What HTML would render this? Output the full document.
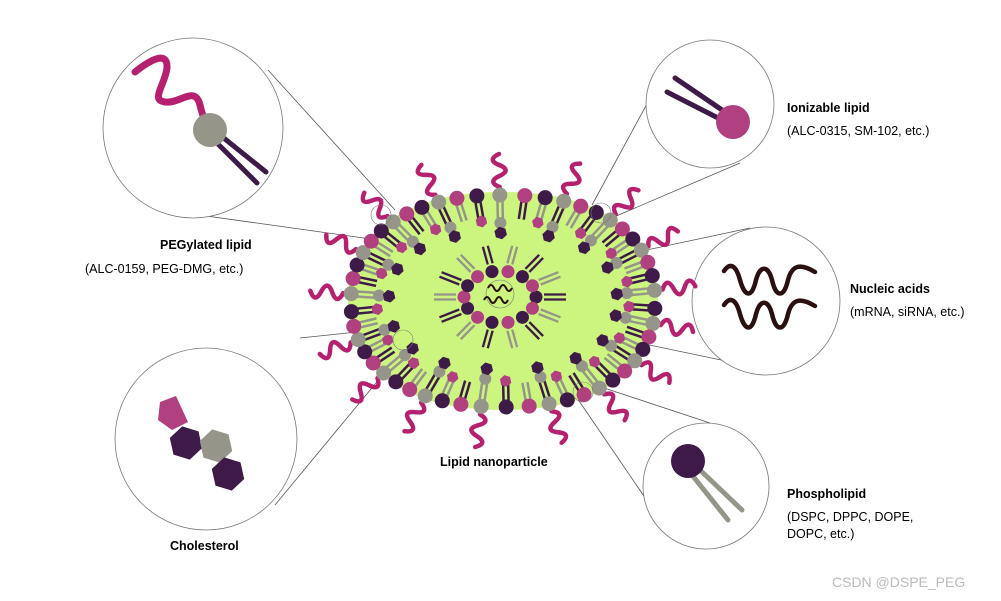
<!DOCTYPE html>
<html><head><meta charset="utf-8"><style>
html,body{margin:0;padding:0;background:#fff;width:1001px;height:601px;overflow:hidden}
svg{display:block}
text{font-family:"Liberation Sans",Arial,sans-serif;font-size:12.5px;fill:#000}
.b{font-weight:bold}
</style></head><body>
<svg id="s" width="1001" height="601" viewBox="0 0 1001 601" xmlns="http://www.w3.org/2000/svg">
<g id="lines" stroke="#555" stroke-width="0.8" fill="none">
<line x1="268" y1="70" x2="395" y2="210"/>
<line x1="185" y1="213" x2="378" y2="240"/>
<line x1="660" y1="80" x2="592" y2="205"/>
<line x1="740" y1="163" x2="607" y2="220"/>
<line x1="750" y1="228" x2="520" y2="277"/>
<line x1="745" y1="365" x2="520" y2="318"/>
<line x1="710" y1="423" x2="595" y2="385"/>
<line x1="650" y1="505" x2="575" y2="395"/>
<line x1="300" y1="338" x2="395" y2="328"/>
<line x1="275" y1="505" x2="395" y2="360"/>
</g>
<g stroke="#777" stroke-width="0.8" fill="#fff">
<circle cx="193" cy="128" r="90"/>
<circle cx="710" cy="104" r="64"/>
<circle cx="766" cy="301" r="74"/>
<circle cx="706" cy="486" r="63"/>
<circle cx="206" cy="439" r="91"/>
</g>
<path d="M135,72 C150,60 168,50 167,68 C165,85 150,100 165,102 C180,104 195,85 200,105 C203,118 205,122 212,125" stroke="#b5206f" stroke-width="7" fill="none" stroke-linecap="round"/>
<g stroke="#3d1a47" stroke-width="5" stroke-linecap="round"><line x1="220" y1="135" x2="266" y2="172"/><line x1="214" y1="140" x2="257" y2="183"/></g>
<circle cx="210" cy="130" r="17" fill="#95958a"/>
<g stroke="#3d1a47" stroke-width="5" stroke-linecap="round"><line x1="675" y1="78" x2="725" y2="112"/><line x1="667" y1="92" x2="722" y2="120"/></g>
<circle cx="733" cy="122" r="17" fill="#b0407f"/>
<g stroke="#2a1010" stroke-width="4.5" fill="none" stroke-linecap="round">
<path d="M724,271 C730,262 736,265 740,280 C745,298 752,298 756,280 C760,265 768,265 772,280 C776,298 784,298 788,280 C792,265 800,263 815,272"/>
<path d="M724,305 C730,296 736,299 740,314 C745,332 752,332 756,314 C760,299 768,299 772,314 C776,332 784,332 788,314 C792,299 800,297 815,306"/>
</g>
<g stroke="#95958a" stroke-width="5" stroke-linecap="round"><line x1="700" y1="470" x2="742" y2="510"/><line x1="692" y1="475" x2="728" y2="520"/></g>
<circle cx="688" cy="461" r="17" fill="#3d1a47"/>
<polygon points="160,402 176,396 188,422 172,430 158,420" fill="#b0407f"/>
<g id="chol"></g>
<g id="lnp"></g>
<text x="160" y="249" class="b">PEGylated lipid</text>
<text x="85" y="273">(ALC-0159, PEG-DMG, etc.)</text>
<text x="787" y="112" class="b">Ionizable lipid</text>
<text x="787" y="135">(ALC-0315, SM-102, etc.)</text>
<text x="850" y="293" class="b">Nucleic acids</text>
<text x="850" y="316">(mRNA, siRNA, etc.)</text>
<text x="787" y="498" class="b">Phospholipid</text>
<text x="787" y="521">(DSPC, DPPC, DOPE,</text>
<text x="787" y="538">DOPC, etc.)</text>
<text x="170" y="550" class="b">Cholesterol</text>
<text x="440" y="466" class="b">Lipid nanoparticle</text>
<text x="832" y="587" style="fill:#bbb;font-size:14px">CSDN @DSPE_PEG</text>
</svg>
<script>
var NS="http://www.w3.org/2000/svg";
function el(p,t,a){var e=document.createElementNS(NS,t);for(var k in a)e.setAttribute(k,a[k]);p.appendChild(e);return e;}
function hex(cx,cy,r,rot){var p=[];for(var i=0;i<6;i++){var a=rot+i*Math.PI/3;p.push((cx+r*Math.cos(a)).toFixed(1)+","+(cy+r*Math.sin(a)).toFixed(1));}return p.join(" ");}
var ch=document.getElementById("chol");
el(ch,"polygon",{points:hex(186,443,17,0.3),fill:"#3d1a47"});
el(ch,"polygon",{points:hex(216,446,17,0.3),fill:"#95958a"});
el(ch,"polygon",{points:hex(228,474,17,0.3),fill:"#3d1a47"});
var g=document.getElementById("lnp");
var D="#3d1a47",P="#b0407f",G="#95958a",M="#b5206f";
var cx=503,cy=301,rx=152,ry=106;
function sup(t,sx,sy){var c=Math.cos(t),s=Math.sin(t);var n=2.25;
 var x=Math.sign(c)*Math.pow(Math.abs(c),2/n),y=Math.sign(s)*Math.pow(Math.abs(s),2/n);return [cx+sx*x,cy+sy*y];}
var d="";for(var i=0;i<=120;i++){var p=sup(i/120*2*Math.PI,rx+3,ry+3);d+=(i?"L":"M")+p[0].toFixed(1)+","+p[1].toFixed(1);}
el(g,"path",{d:d+"Z",fill:"#ccf57f"});
var N=50,cols=[D,G,P];
var heads=[];
for(var i=0;i<N;i++){
 var t=i/N*2*Math.PI+0.05;
 var o=sup(t,rx,ry);var inn=sup(t,rx*0.8,ry*0.72);
 var dx=inn[0]-o[0],dy=inn[1]-o[1],L=Math.hypot(dx,dy);dx/=L;dy/=L;var nx=-dy,ny=dx;
 var c=cols[i%3];
 var tc=(i%2)?G:D;
 el(g,"line",{x1:o[0]+nx*2.5,y1:o[1]+ny*2.5,x2:o[0]+nx*2.5+dx*24,y2:o[1]+ny*2.5+dy*24,stroke:tc,"stroke-width":2.5});
 el(g,"line",{x1:o[0]-nx*2.5,y1:o[1]-ny*2.5,x2:o[0]-nx*2.5+dx*24,y2:o[1]-ny*2.5+dy*24,stroke:tc,"stroke-width":2.5});
 if(i%3==0){el(g,"polygon",{points:hex(o[0]+dx*26,o[1]+dy*26,6,0.3),fill:P});}
 if(i%3==1){el(g,"circle",{cx:o[0]+dx*28,cy:o[1]+dy*28,r:6,fill:G});el(g,"polygon",{points:hex(o[0]+dx*38,o[1]+dy*38,6.5,0.3),fill:D});}
 heads.push([o[0],o[1],c]);
 if(i%3==1){var ox=-dx,oy=-dy;var bx=o[0]+ox*8,by=o[1]+oy*8;var pts="M"+bx.toFixed(1)+","+by.toFixed(1);
  for(var k=1;k<=3;k++){var s=k*11;var w=(k%2?1:-1)*9;pts+=" Q"+(bx+ox*(s-5.5)+nx*w*1.4).toFixed(1)+","+(by+oy*(s-5.5)+ny*w*1.4).toFixed(1)+" "+(bx+ox*s).toFixed(1)+","+(by+oy*s).toFixed(1);}
  el(g,"path",{d:pts,stroke:M,"stroke-width":4.5,fill:"none","stroke-linecap":"round"});}
}
heads.forEach(function(h){el(g,"circle",{cx:h[0],cy:h[1],r:7.5,fill:h[2]});});
var mx=500,my=297;
for(var i=0;i<14;i++){var t=i/14*2*Math.PI;var c=Math.cos(t),s=Math.sin(t);
 var x=mx+36*c,y=my+26*s;var tc=(i%2)?G:D;var nx=-s,ny=c;
 el(g,"line",{x1:x+c*8+nx*2.5,y1:y+s*8+ny*2.5,x2:x+c*30+nx*2.5,y2:y+s*26+ny*2.5,stroke:tc,"stroke-width":2.3});
 el(g,"line",{x1:x+c*8-nx*2.5,y1:y+s*8-ny*2.5,x2:x+c*30-nx*2.5,y2:y+s*26-ny*2.5,stroke:tc,"stroke-width":2.3});
 el(g,"circle",{cx:x,cy:y,r:6.5,fill:(i%2)?P:D});}
el(g,"circle",{cx:500,cy:294,r:14,fill:"none",stroke:"#777","stroke-width":0.6});
el(g,"path",{d:"M488,288 q3,-6 6,0 q3,6 6,0 q3,-6 6,0 q3,6 6,0",stroke:"#2a1010","stroke-width":2,fill:"none"});
el(g,"path",{d:"M484,300 q3,-6 6,0 q3,6 6,0 q3,-6 6,0 q3,6 6,0",stroke:"#2a1010","stroke-width":2,fill:"none"});
[[381,215],[601,213],[403,340],[583,392]].forEach(function(p){el(g,"circle",{cx:p[0],cy:p[1],r:10,fill:"none",stroke:"#777","stroke-width":0.6});});
</script>
</body></html>
